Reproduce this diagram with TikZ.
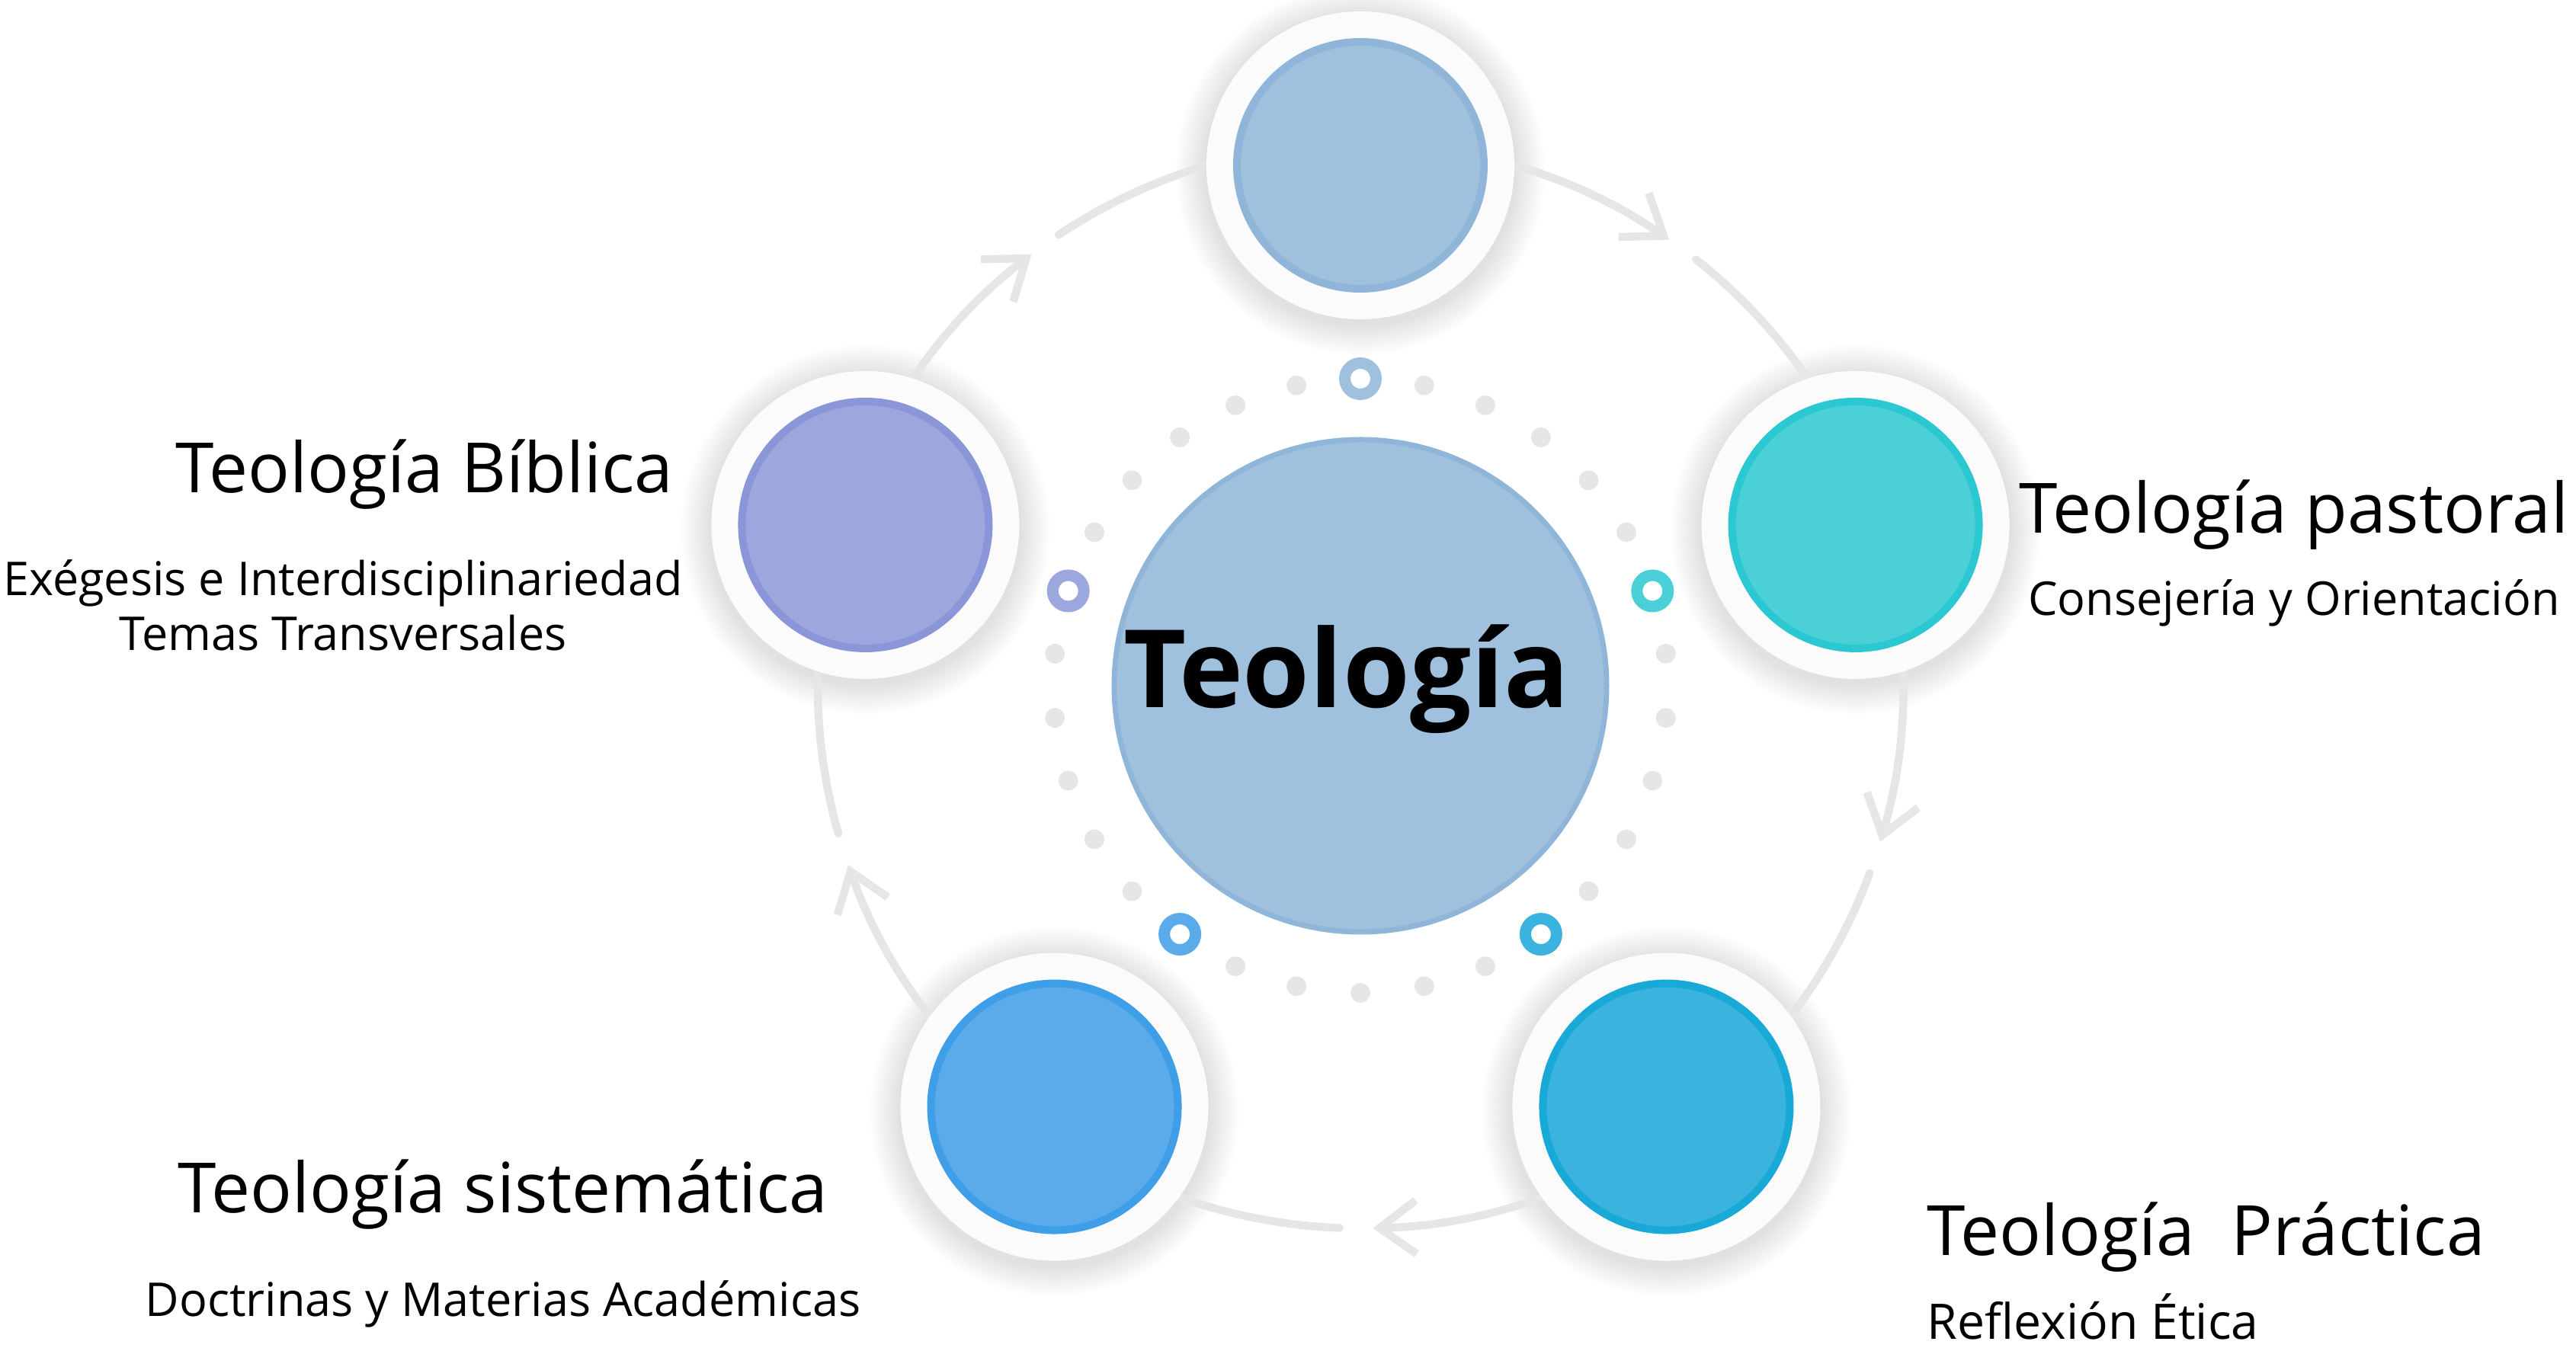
\documentclass[tikz,border=0pt]{standalone}
\usepackage{fontspec}
\setmainfont{Open Sans}
\usetikzlibrary{arrows.meta}

\definecolor{tpF}{HTML}{A0C1DE}
\definecolor{tpL}{HTML}{8FB6D8}
\definecolor{psF}{HTML}{4CD0D8}
\definecolor{psL}{HTML}{2BC8D2}
\definecolor{prF}{HTML}{3AB3DE}
\definecolor{prL}{HTML}{19A9D6}
\definecolor{ssF}{HTML}{5BABEA}
\definecolor{ssL}{HTML}{3F9EE8}
\definecolor{bbF}{HTML}{9CA7DE}
\definecolor{bbL}{HTML}{8A96D8}
\definecolor{flowgray}{HTML}{E6E6E6}

\tikzset{
  halo/.style={circle, fill=white, fill opacity=.9, minimum size=4.04cm, inner sep=0pt},
  ball/.style={circle, line width=1mm, minimum size=3.24cm, inner sep=0pt},
  hub/.style={circle, fill=tpF, draw=tpL, line width=.7mm, minimum size=6.46cm, inner sep=0pt},
  flow/.style={draw=flowgray, line width=1.05mm, line cap=round},
  title/.style={font=\fontsize{25.9}{30}\selectfont, inner sep=0pt},
  sub/.style={font=\fontsize{17.4}{20}\selectfont, inner sep=0pt}
}

\begin{document}
\begin{tikzpicture}
\useasboundingbox (-17.85,-8.73) rectangle (15.95,9.00);

% soft shadow under the outer rings
\foreach \a in {90,18,-54,-126,162}
  \foreach \r in {2.42,2.38,...,2.03}
    \fill[black, opacity=.011, yshift=-.6mm] (\a:6.83) circle (\r);

% cycle arrows
\foreach \a [count=\i] in {90,18,-54,-126,-198}{
  \coordinate (s\i) at (\a:7.12);
  \coordinate (r\i) at (\a-38.2:7.12);
  \draw[flow, -{Straight Barb[length=4.8mm, width=7mm]}] (s\i) arc[start angle=\a, end angle=\a-34.7, radius=7.12];
  \draw[flow] (r\i) arc[start angle=\a-38.2, end angle=\a-72, radius=7.12];
}

% topic circles
\foreach \a/\n/\col in {90/top/tp, 18/pastoral/ps, -54/practica/pr, -126/sistematica/ss, 162/biblica/bb}{
  \node[halo] (\n) at (\a:6.83) {};
  \node[ball, fill=\col F, draw=\col L] (\n-in) at (\n) {};
}

% dotted ring
\foreach \k in {1,...,5}
  \foreach \j in {0,...,4}
    \fill[flowgray] (90-72*\j-12*\k:4.03) circle (.13);
\foreach \a/\col in {90/tpF, 18/psF, -54/prF, -126/ssF, 162/bbF}
  \draw[\col, line width=1.5mm] (\a:4.03) circle (.205);

\node[hub] (hub) at (0,0) {};
\node[font=\bfseries\fontsize{40.4}{48}\selectfont, inner sep=0pt] (hub-t) at (-.18,.09) {Teología};

% labels
\node[title, anchor=base east] (biblica-t) at (-9.01,2.53) {Teología Bíblica};
\node[sub, anchor=base] (biblica-s1) at (-13.35,1.18) {Exégesis e Interdisciplinariedad};
\node[sub, anchor=base] (biblica-s2) at (-13.35,0.46) {Temas Transversales};

\node[title, anchor=base] (pastoral-t) at (12.25,2.00) {Teología pastoral};
\node[sub, anchor=base] (pastoral-s) at (12.25,0.92) {Consejería y Orientación};

\node[title, anchor=base west] (practica-t) at (7.43,-7.47) {Teología\ \ Práctica};
\node[sub, anchor=base west, font=\fontsize{18.3}{21}\selectfont] (practica-s) at (7.43,-8.57) {Reflexión Ética};

\node[title, anchor=base] (sistematica-t) at (-11.25,-6.91) {Teología sistemática};
\node[sub, anchor=base] (sistematica-s) at (-11.25,-8.27) {Doctrinas y Materias Académicas};

\end{tikzpicture}
\end{document}
